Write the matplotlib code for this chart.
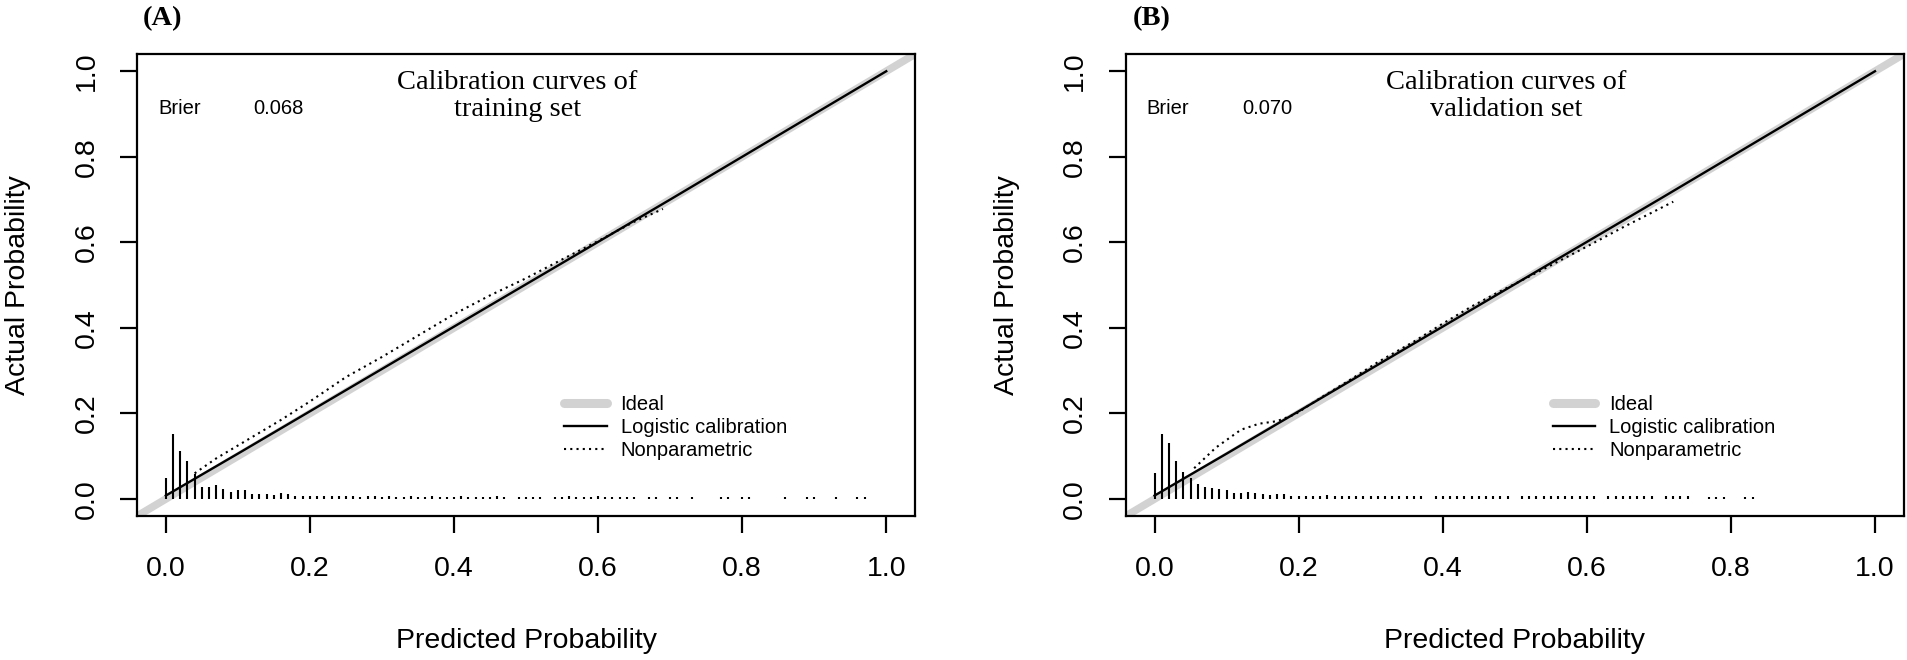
import matplotlib
matplotlib.use("Agg")
import matplotlib.pyplot as plt
from matplotlib.lines import Line2D

plt.rcParams['font.family'] = ['Liberation Sans', 'DejaVu Sans']

# ---- data ----
panels = ['(A)', '(B)']
titles = ['Calibration curves of\ntraining set', 'Calibration curves of\nvalidation set']
brier = ['0.068', '0.070']

ticks = [0.0, 0.2, 0.4, 0.6, 0.8, 1.0]
tick_labels = ['0.0', '0.2', '0.4', '0.6', '0.8', '1.0']

# logistic calibration curves
logit_x = [0.0, 0.05, 0.1, 0.2, 0.3, 0.4, 0.5, 0.6, 0.7, 0.8, 0.9, 1.0]
logit_a = [0.008, 0.057, 0.106, 0.205, 0.304, 0.403, 0.502, 0.601, 0.70, 0.80, 0.90, 1.0]
logit_b = [0.008, 0.057, 0.106, 0.205, 0.304, 0.403, 0.502, 0.601, 0.70, 0.80, 0.90, 1.0]

# nonparametric (loess) curves
np_x_a = [0.04, 0.07, 0.10, 0.13, 0.16, 0.20, 0.25, 0.30, 0.35, 0.40, 0.45, 0.50, 0.55, 0.60, 0.65, 0.69]
np_y_a = [0.06, 0.095, 0.125, 0.155, 0.185, 0.228, 0.285, 0.332, 0.382, 0.432, 0.476, 0.516, 0.56, 0.603, 0.648, 0.678]
np_x_b = [0.055, 0.085, 0.12, 0.145, 0.17, 0.195, 0.23, 0.27, 0.31, 0.36, 0.40, 0.44, 0.47, 0.52, 0.56, 0.60, 0.65, 0.72]
np_y_b = [0.072, 0.12, 0.162, 0.176, 0.182, 0.198, 0.236, 0.277, 0.32, 0.368, 0.41, 0.45, 0.477, 0.52, 0.555, 0.59, 0.635, 0.695]

# spike histograms of predicted probabilities
spike_x_a = [0.00, 0.01, 0.02, 0.03, 0.04, 0.05, 0.06, 0.07, 0.08, 0.09, 0.10,
             0.11, 0.12, 0.13, 0.14, 0.15, 0.16, 0.17, 0.18, 0.19, 0.20,
             0.21, 0.22, 0.23, 0.24, 0.25, 0.26, 0.27, 0.28, 0.29, 0.30,
             0.31, 0.32, 0.33, 0.34, 0.35, 0.36, 0.37, 0.38, 0.39, 0.40,
             0.41, 0.42, 0.43, 0.44, 0.45, 0.46, 0.47,
             0.49, 0.50, 0.51, 0.52,
             0.54, 0.55, 0.56, 0.57, 0.58, 0.59, 0.60, 0.61, 0.62, 0.63, 0.64, 0.65,
             0.67, 0.68, 0.70, 0.71, 0.73, 0.77, 0.78, 0.80, 0.81,
             0.86, 0.89, 0.90, 0.93, 0.96, 0.97]
spike_h_a = [0.050, 0.152, 0.113, 0.088, 0.059, 0.029, 0.027, 0.032, 0.023, 0.016, 0.021,
             0.020, 0.012, 0.012, 0.012, 0.010, 0.013, 0.011, 0.008, 0.007, 0.007,
             0.007, 0.006, 0.006, 0.007, 0.006, 0.006, 0.005, 0.006, 0.006, 0.005,
             0.006, 0.005, 0.005, 0.006, 0.005, 0.005, 0.006, 0.005, 0.005, 0.005,
             0.006, 0.005, 0.005, 0.005, 0.005, 0.006, 0.005,
             0.005, 0.005, 0.005, 0.005,
             0.005, 0.005, 0.006, 0.005, 0.005, 0.005, 0.006, 0.005, 0.005, 0.005, 0.005, 0.005,
             0.005, 0.005, 0.005, 0.005, 0.005, 0.005, 0.005, 0.005, 0.005,
             0.005, 0.005, 0.005, 0.005, 0.005, 0.005]

spike_x_b = [0.00, 0.01, 0.02, 0.03, 0.04, 0.05, 0.06, 0.07, 0.08, 0.09,
             0.10, 0.11, 0.12, 0.13, 0.14, 0.15, 0.16, 0.17, 0.18, 0.19,
             0.20, 0.21, 0.22, 0.23, 0.24, 0.25, 0.26, 0.27, 0.28, 0.29,
             0.30, 0.31, 0.32, 0.33, 0.34, 0.35, 0.36, 0.37,
             0.39, 0.40, 0.41, 0.42, 0.43, 0.44, 0.45, 0.46, 0.47, 0.48, 0.49,
             0.51, 0.52, 0.53, 0.54, 0.55, 0.56, 0.57, 0.58, 0.59, 0.60, 0.61,
             0.63, 0.64, 0.65, 0.66, 0.67, 0.68, 0.69,
             0.71, 0.72, 0.73, 0.74, 0.77, 0.78, 0.79, 0.82, 0.83]
spike_h_b = [0.060, 0.152, 0.132, 0.088, 0.064, 0.050, 0.035, 0.027, 0.025, 0.024,
             0.021, 0.015, 0.013, 0.017, 0.013, 0.012, 0.009, 0.011, 0.0125, 0.007,
             0.007, 0.006, 0.006, 0.007, 0.009, 0.007, 0.006, 0.007, 0.006, 0.006,
             0.007, 0.006, 0.006, 0.006, 0.008, 0.006, 0.006, 0.007,
             0.006, 0.006, 0.007, 0.006, 0.006, 0.007, 0.006, 0.006, 0.007, 0.006, 0.006,
             0.006, 0.006, 0.007, 0.006, 0.006, 0.006, 0.007, 0.006, 0.006, 0.006, 0.006,
             0.006, 0.006, 0.006, 0.006, 0.006, 0.006, 0.006,
             0.006, 0.006, 0.006, 0.006, 0.005, 0.005, 0.005, 0.005, 0.005]

ideal = [-0.1, 1.1]

logit_y = [logit_a, logit_b]
np_x = [np_x_a, np_x_b]
np_y = [np_y_a, np_y_b]
spike_x = [spike_x_a, spike_x_b]
spike_h = [spike_h_a, spike_h_b]

GRAY = '#d2d2d2'
FS = 20.5

fig = plt.figure(figsize=(19.08, 6.6), dpi=100)
lefts = [0.0718, 0.590]

for i in range(2):
    ax = fig.add_axes([lefts[i], 0.218, 0.4078, 0.700])
    ax.set_xlim(-0.04, 1.04)
    ax.set_ylim(-0.04, 1.04)

    ax.plot(ideal, ideal, color=GRAY, lw=5.5, solid_capstyle='round', zorder=1)
    ax.plot(logit_x, logit_y[i], color='black', lw=1.7, zorder=3)
    ax.plot(np_x[i], np_y[i], color='black', lw=1.5, linestyle=(0, (1, 2.0)), zorder=3)
    ax.vlines(spike_x[i], 0, spike_h[i], color='black', lw=1.5, zorder=2)

    for s in ax.spines.values():
        s.set_linewidth(1.6)
    ax.set_xticks(ticks)
    ax.set_xticklabels(tick_labels)
    ax.set_yticks(ticks)
    ax.set_yticklabels(tick_labels, rotation=90, va='center')
    ax.tick_params(axis='both', direction='out', length=12, width=1.6, labelsize=FS)
    ax.tick_params(axis='x', pad=17)
    ax.tick_params(axis='y', pad=15)

    ax.set_xlabel('Predicted Probability', fontsize=FS)
    ax.xaxis.label.set_va('center')
    ax.xaxis.set_label_coords(0.5, -0.27)
    ax.set_ylabel('Actual Probability', fontsize=FS)
    ax.yaxis.label.set_va('center')
    ax.yaxis.set_label_coords(-0.153, 0.5)

    ax.text(0.488, 0.943, titles[i], ha='center', va='center', fontsize=20.5,
            family=['Liberation Serif', 'DejaVu Serif'], linespacing=1.1)
    ax.text(-0.011, 0.913, 'Brier', ha='left', va='center', fontsize=14.5)
    ax.text(0.122, 0.913, brier[i], ha='left', va='center', fontsize=14.5)
    ax.text(0.033, 1.076, panels[i], transform=ax.transAxes, ha='center', va='center',
            fontsize=20.5, fontweight='bold', family=['Liberation Serif', 'DejaVu Serif'])

    handles = [Line2D([], [], color=GRAY, lw=6.5, solid_capstyle='round'),
               Line2D([], [], color='black', lw=1.7),
               Line2D([], [], color='black', lw=1.5, linestyle=(0, (1, 2.0)))]
    ax.legend(handles, ['Ideal', 'Logistic calibration', 'Nonparametric'],
              loc='upper left', bbox_to_anchor=(0.553, 0.243),
              bbox_transform=ax.transData, frameon=False, fontsize=14.5,
              handlelength=2.1, handletextpad=0.7, labelspacing=0.2,
              borderpad=0, borderaxespad=0)

fig.savefig('out.png', dpi=100)
